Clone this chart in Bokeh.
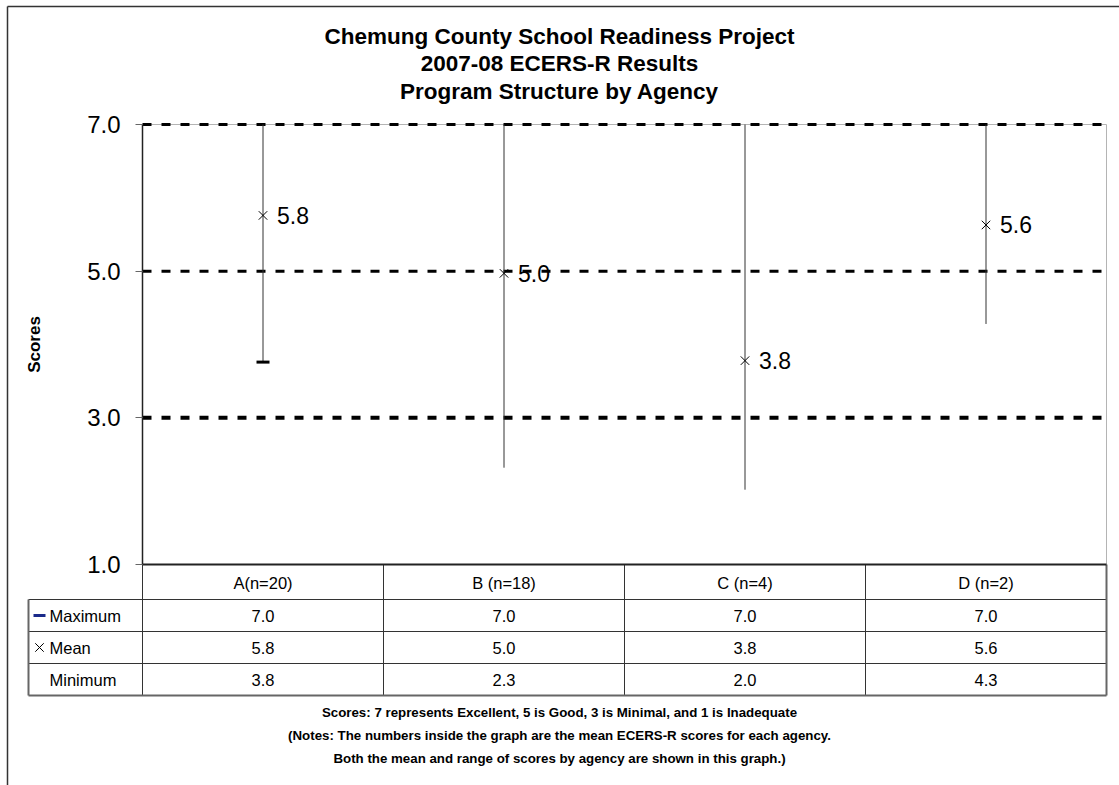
from bokeh.plotting import figure
from bokeh.models import Range1d, FixedTicker
from bokeh.core.properties import value
from bokeh.embed import file_html
from bokeh.resources import INLINE

# ---------------- data ----------------
title_lines = ["Chemung County School Readiness Project",
               "2007-08 ECERS-R Results",
               "Program Structure by Agency"]
agencies = ["A(n=20)", "B (n=18)", "C (n=4)", "D (n=2)"]
maximum = [7.0, 7.0, 7.0, 7.0]
mean = [5.76, 4.97, 3.78, 5.63]
minimum = [3.76, 2.32, 2.02, 4.28]
y_ticks = [1, 3, 5, 7]
y_tick_labels = ["1.0", "3.0", "5.0", "7.0"]
reference_levels = [7, 5, 3]
row_names = ["Maximum", "Mean", "Minimum"]
notes = ["Scores: 7 represents Excellent, 5 is Good, 3 is Minimal, and 1 is Inadequate",
         "(Notes: The numbers inside the graph are the mean ECERS-R scores for each agency.",
         "Both the mean and range of scores by agency are shown in this graph.)"]

# ---------------- layout (pixels) ----------------
W, H = 1119, 785
L, R, T, B = 142, 1106, 124, 564          # plot area
YMIN, YMAX = 1, 7
n = len(agencies)
FONT = "Liberation Sans"
F = value(FONT)


def dx(px):
    return (px - L) / (R - L) * n


def dy(py):
    return YMIN + (B - py) / (B - T) * (YMAX - YMIN)


centers = [i + 0.5 for i in range(n)]

p = figure(width=W, height=H, x_range=Range1d(dx(0), dx(W)), y_range=Range1d(dy(H), dy(0)),
           output_backend="svg", toolbar_location=None, title=None, min_border=0,
           background_fill_color="white", border_fill_color="white")
p.outline_line_color = None
p.xgrid.visible = False
p.ygrid.visible = False

# x axis: category header row under the plot area
xax = p.xaxis[0]
xax.fixed_location = YMIN
xax.bounds = (0, n)
xax.ticker = FixedTicker(ticks=centers)
xax.major_label_overrides = dict(zip(centers, agencies))
xax.major_tick_line_color = None
xax.minor_tick_line_color = None
xax.major_tick_out = 0
xax.major_tick_in = 0
xax.axis_line_color = "#222222"
xax.axis_line_width = 2
xax.major_label_text_font = FONT
xax.major_label_text_font_size = "16.5px"
xax.major_label_text_color = "black"
xax.major_label_standoff = 9

# y axis
yax = p.yaxis[0]
yax.fixed_location = 0
yax.bounds = (YMIN, YMAX)
yax.ticker = FixedTicker(ticks=y_ticks)
yax.major_label_overrides = dict(zip(y_ticks, y_tick_labels))
yax.major_tick_out = 7
yax.major_tick_in = 0
yax.minor_tick_line_color = None
yax.major_tick_line_color = "#666666"
yax.axis_line_color = "#222222"
yax.axis_line_width = 1.5
yax.major_label_text_font = FONT
yax.major_label_text_font_size = "24px"
yax.major_label_text_color = "black"
yax.major_label_standoff = 15
yax.axis_label = "Scores"
yax.axis_label_text_font = FONT
yax.axis_label_text_font_size = "17px"
yax.axis_label_text_font_style = "bold"
yax.axis_label_text_color = "black"
yax.axis_label_standoff = 40

# plot-area border (top and right), light grey
p.segment(x0=[0, n], y0=[YMAX, YMIN], x1=[n, n], y1=[YMAX, YMAX],
          line_color="#b4b4b4", line_width=1)

# reference dashed lines
p.segment(x0=[0] * len(reference_levels), x1=[n] * len(reference_levels),
          y0=reference_levels, y1=reference_levels,
          line_color="black", line_width=[4 if v == 3 else 3 for v in reference_levels],
          line_dash="9 10")

# whiskers (min..max)
p.segment(x0=centers, y0=minimum, x1=centers, y1=maximum,
          line_color="#333333", line_width=1)
# minimum marker for first agency
p.scatter(x=centers[:1], y=minimum[:1], marker="dash", size=13, line_width=3,
          line_color="black")
# mean markers + labels
p.scatter(x=centers, y=mean, marker="x", size=12, line_color="black", line_width=1)
p.text(x=centers, y=mean, text=[f"{v:.1f}" for v in mean], x_offset=14,
       text_baseline="middle", text_align="left", text_font_size="23px",
       text_font=F, text_color="black")

# ---------------- table ----------------
header_bottom = 599
row_h = 32
row_tops = [header_bottom + i * row_h for i in range(len(row_names))]
row_mid = [dy(t + row_h / 2) for t in row_tops]
table_bottom = header_bottom + row_h * len(row_names)
table_left = 28

# inner grid lines
hx0 = [dx(table_left)] * len(row_names)
hy = [dy(header_bottom)] + [dy(t) for t in row_tops[1:]]
vx = list(range(n))
p.segment(x0=hx0 + vx, x1=[n] * len(hy) + vx,
          y0=hy + [dy(B)] * n, y1=hy + [dy(table_bottom)] * n,
          line_color="#333333", line_width=1)
# outer edges
p.segment(x0=[dx(table_left), dx(table_left), n],
          y0=[dy(table_bottom), dy(header_bottom), dy(B)],
          x1=[n, dx(table_left), n],
          y1=[dy(table_bottom), dy(table_bottom), dy(table_bottom)],
          line_color="#666666", line_width=2)

# table values
tx, ty, tt = [], [], []
for r, series in enumerate([maximum, mean, minimum]):
    for i, v in enumerate(series):
        tx.append(centers[i]); ty.append(row_mid[r]); tt.append(f"{v:.1f}")
p.text(x=tx, y=ty, text=tt, text_align="center", text_baseline="middle",
       text_font=F, text_font_size="16.5px", text_color="black")

# row labels
p.text(x=[dx(49)] * len(row_names), y=row_mid, text=row_names, text_align="left",
       text_baseline="middle", text_font=F, text_font_size="16.5px", text_color="black")

# legend symbols inside the table
p.segment(x0=[dx(33)], x1=[dx(45)], y0=row_mid[:1], y1=row_mid[:1],
          line_color="#1a2a8a", line_width=3)
p.scatter(x=[dx(39)], y=row_mid[1:2], marker="x", size=12, line_color="black", line_width=1)

# ---------------- titles and notes ----------------
p.text(x=[dx(559)] * len(title_lines), y=[dy(v) for v in [36, 63, 91]], text=title_lines,
       text_align="center", text_baseline="middle", text_font=F, text_font_size="22.5px",
       text_font_style="bold", text_color="black")
p.text(x=[dx(559)] * len(notes), y=[dy(v) for v in [712, 735, 758]], text=notes,
       text_align="center", text_baseline="middle", text_font=F, text_font_size="13.3px",
       text_font_style="bold", text_color="black")

# outer chart border (left and top edges)
p.segment(x0=[dx(7), dx(7)], y0=[dy(6), dy(6)], x1=[dx(7), dx(W)], y1=[dy(H), dy(6)],
          line_color="#333333", line_width=1.5)

open("out.html", "w").write(file_html(p, INLINE))
